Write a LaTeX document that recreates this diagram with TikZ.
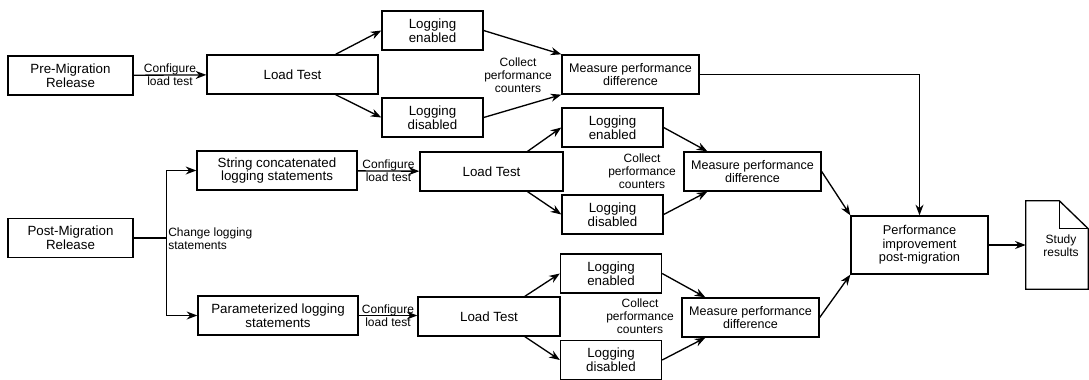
\documentclass[tikz,border=0pt]{standalone}
\usepackage{fontspec}
\setmainfont{Liberation Sans}
\usetikzlibrary{arrows.meta,calc}
\tikzset{box/.style={draw,line width=1pt,align=center,inner sep=1pt,
		minimum height=29.25pt,font=\fontsize{10}{10.2}\selectfont},
	lbl/.style={align=center,inner sep=0pt,font=\fontsize{9}{9.75}\selectfont},
	flow/.style={-{Stealth[length=8pt,width=6pt]},line width=1pt},
	wbox/.style={box,minimum width=93.75pt},
	logbox/.style={box,minimum width=75.75pt},
	measbox/.style={box,minimum width=102.75pt,font=\fontsize{9.4}{10.2}\selectfont}}

\begin{document}
\begin{tikzpicture}[x=0.75pt,y=-0.75pt]
	\useasboundingbox (0,0) rectangle (1089,379);
	% pre-migration
	\node[wbox] (pre) at (70.5,75.5) {Pre-Migration\\Release};
	\node[box,minimum width=128.25pt] (lt1) at (292.5,74.5) {Load Test};
	\node[logbox] (en1) at (432.5,30.5) {Logging\\enabled};
	\node[logbox] (dis1) at (432.5,117.5) {Logging\\disabled};
	\node[measbox] (meas1) at (630.5,74.5) {Measure performance\\difference};
	\node[lbl] (coll1) at (518,75) {Collect\\performance\\counters};
	% post-migration
	\node[wbox] (post) at (70.5,238) {Post-Migration\\Release};
	\node[box,minimum width=120pt] (strcat) at (277,170.5) {String concatenated\\logging statements};
	\node[box,minimum width=107.25pt] (lt2) at (491.5,171.5) {Load Test};
	\node[logbox] (en2) at (612.5,127.5) {Logging\\enabled};
	\node[logbox] (dis2) at (612.5,214.5) {Logging\\disabled};
	\node[measbox] (meas2) at (752.5,171.5) {Measure performance\\difference};
	\node[lbl] (coll2) at (642,171) {Collect\\performance\\counters};
	\node[box,minimum width=120pt] (param) at (278,315.5) {Parameterized logging\\statements};
	\node[box,minimum width=106.5pt] (lt3) at (489,316.5) {Load Test};
	\node[logbox] (en3) at (611,273.5) {Logging\\enabled};
	\node[logbox] (dis3) at (611,360) {Logging\\disabled};
	\node[measbox] (meas3) at (750.5,317.5) {Measure performance\\difference};
	\node[lbl] (coll3) at (640,316) {Collect\\performance\\counters};
	% results
	\node[measbox,minimum height=43.5pt,font=\fontsize{9.6}{10}\selectfont] (perf) at (919.5,245) {Performance\\improvement\\post-migration};
	\node[minimum width=46.5pt,minimum height=66pt,inner sep=0pt] (doc) at (1057,245) {};
	\draw[line width=1pt] (doc.north west) -- ([xshift=-21.75pt]doc.north east)
		-- ([yshift=-21pt]doc.north east) -- (doc.south east) -- (doc.south west) -- cycle;
	\draw[line width=1pt] ([xshift=-21.75pt]doc.north east) |- ([yshift=-21pt]doc.north east);
	\node[lbl,font=\fontsize{9}{10}\selectfont] (res) at (1061,246) {Study\\results};

	\draw[flow] (pre) -- node[lbl] {Configure\\load test} (lt1);
	\draw[flow] ($(lt1.north)!0.5!(lt1.north east)$) -- (en1.west);
	\draw[flow] ($(lt1.south)!0.5!(lt1.south east)$) -- (dis1.west);
	\draw[flow] (en1.east) -- (meas1.north west);
	\draw[flow] (dis1.east) -- (meas1.south west);
	\draw[flow] (meas1.east) -| (perf.north);

	\draw[line width=1pt] (post.east) -- ++(33,0) coordinate (split);
	\node[lbl,anchor=west,align=left] (chg) at (168,238.5) {Change logging\\statements};
	\draw[flow] (split) |- (strcat.west);
	\draw[flow] (split) |- (param.west);

	\draw[flow] (strcat) -- node[lbl] {Configure\\load test} (lt2);
	\draw[flow] ($(lt2.north)!0.5!(lt2.north east)$) -- (en2.west);
	\draw[flow] ($(lt2.south)!0.5!(lt2.south east)$) -- (dis2.west);
	\draw[flow] (en2.east) -- ([xshift=18pt]meas2.north west);
	\draw[flow] (dis2.east) -- ([xshift=18pt]meas2.south west);
	\draw[flow] (meas2.east) -- (perf.north west);

	\draw[flow] (param.east) -- node[lbl] {Configure\\load test} (param.east -| lt3.west);
	\draw[flow] ($(lt3.north)!0.5!(lt3.north east)$) -- (en3.west);
	\draw[flow] ($(lt3.south)!0.5!(lt3.south east)$) -- (dis3.west);
	\draw[flow] (en3.east) -- ([xshift=18pt]meas3.north west);
	\draw[flow] (dis3.east) -- ([xshift=18pt]meas3.south west);
	\draw[flow] (meas3.east) -- (perf.south west);

	\draw[flow] (perf.east) -- (doc.west);
\end{tikzpicture}
\end{document}
